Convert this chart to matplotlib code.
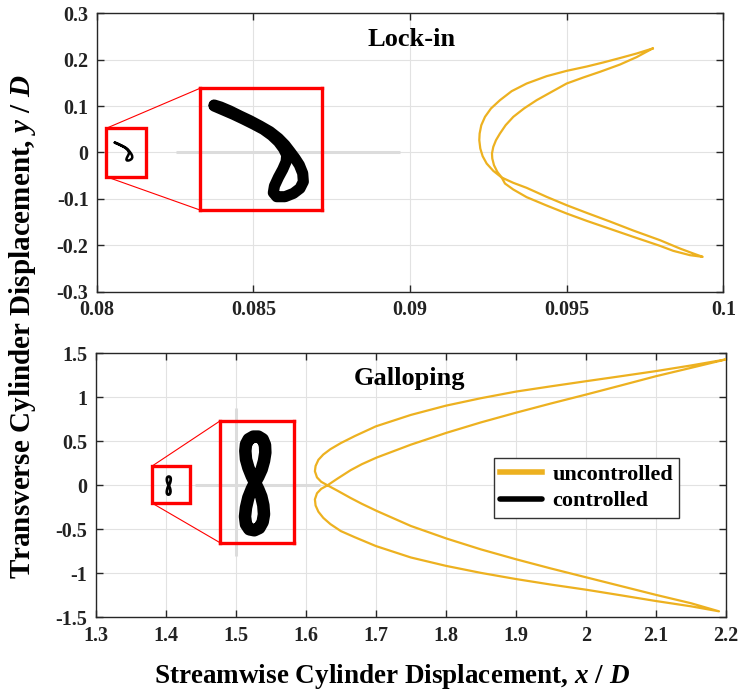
import matplotlib
matplotlib.use('Agg')
import matplotlib.pyplot as plt
from matplotlib.patches import Rectangle, ConnectionPatch

plt.rcParams['font.family'] = ['Liberation Serif', 'DejaVu Serif']
plt.rcParams['font.weight'] = 'bold'
plt.rcParams['mathtext.fontset'] = 'custom'
plt.rcParams['mathtext.it'] = 'Liberation Serif:italic:bold'
plt.rcParams['mathtext.rm'] = 'Liberation Serif:bold'

# ---------------- data ----------------
# Lock-in, uncontrolled trajectory (x/D, y/D)
lock_unc_x = [0.097745, 0.097234, 0.096702, 0.096170, 0.095638, 0.094999, 0.094360,
              0.093722, 0.093243, 0.092870, 0.092583, 0.092392, 0.092274, 0.092221,
              0.092210, 0.092242, 0.092317, 0.092445, 0.092657, 0.092924,
              0.093296, 0.093722, 0.094360, 0.094999, 0.095638, 0.096383, 0.097127,
              0.097979, 0.098618, 0.099043, 0.099341,
              0.098937, 0.098404, 0.097979, 0.097127, 0.096383, 0.095638, 0.094999,
              0.094360, 0.093722, 0.093296, 0.093030, 0.092924,
              0.092785, 0.092679, 0.092625, 0.092615, 0.092657, 0.092743, 0.092870,
              0.093051, 0.093296, 0.093637, 0.094041, 0.094520, 0.094999, 0.095531,
              0.096063, 0.096702, 0.097234, 0.097745]
lock_unc_y = [0.2241, 0.2133, 0.2035, 0.1940, 0.1852, 0.1759, 0.1644,
              0.1486, 0.1321, 0.1127, 0.0948, 0.0768, 0.0588, 0.0409,
              0.0265, 0.0086, -0.0080, -0.0238, -0.0396, -0.0539,
              -0.0654, -0.0762, -0.0956, -0.1136, -0.1301, -0.1488, -0.1682,
              -0.1890, -0.2070, -0.2177, -0.2249,
              -0.2213, -0.2120, -0.2012, -0.1818, -0.1646, -0.1473, -0.1315,
              -0.1143, -0.0963, -0.0798, -0.0669, -0.0539,
              -0.0417, -0.0274, -0.0130, -0.0022, 0.0121, 0.0265, 0.0409,
              0.0588, 0.0768, 0.0948, 0.1127, 0.1307, 0.1486, 0.1616,
              0.1738, 0.1895, 0.2055, 0.2241]

# Lock-in, controlled trajectory
lock_ctl_x = [0.080572, 0.080630, 0.080693, 0.080755, 0.080818, 0.080881, 0.080933,
              0.080975, 0.081006, 0.081027, 0.081023, 0.081002, 0.080975, 0.080950,
              0.080943, 0.080964, 0.081016, 0.081069, 0.081110, 0.081131, 0.081127,
              0.081106, 0.081079, 0.081048, 0.081016, 0.080975, 0.080922, 0.080860,
              0.080797, 0.080735, 0.080672, 0.080613, 0.080572]
lock_ctl_y = [0.02102, 0.01934, 0.01751, 0.01553, 0.01342, 0.01117, 0.00864,
              0.00596, 0.00315, 0.00033, -0.00249, -0.00573, -0.00910, -0.01276,
              -0.01558, -0.01727, -0.01727, -0.01586, -0.01375, -0.01093, -0.00741,
              -0.00389, -0.00108, 0.00174, 0.00455, 0.00737, 0.01018, 0.01258,
              0.01483, 0.01680, 0.01891, 0.02060, 0.02145]

# Galloping, uncontrolled trajectory
gall_unc_x = [2.200, 2.150, 2.100, 2.050, 2.000, 1.950, 1.900, 1.850, 1.800, 1.750,
              1.700, 1.670, 1.650, 1.635, 1.625, 1.618, 1.614, 1.613, 1.616, 1.622,
              1.631,
              1.645, 1.664, 1.680, 1.701, 1.750, 1.801, 1.850, 1.900, 1.950, 2.000,
              2.050, 2.100, 2.150, 2.190,
              2.150, 2.100, 2.050, 2.000, 1.950, 1.900, 1.850, 1.800, 1.750, 1.700,
              1.670, 1.650, 1.635, 1.625, 1.618, 1.614, 1.613, 1.616, 1.622, 1.631,
              1.645, 1.664, 1.680, 1.701, 1.750, 1.801, 1.850, 1.900, 1.950, 2.000,
              2.050, 2.100, 2.150, 2.200]
gall_unc_y = [1.431, 1.362, 1.298, 1.240, 1.183, 1.125, 1.065, 0.990, 0.905, 0.800,
              0.670, 0.560, 0.480, 0.410, 0.350, 0.290, 0.220, 0.160, 0.090, 0.040,
              0.000,
              -0.060, -0.144, -0.210, -0.290, -0.462, -0.605, -0.728, -0.840, -0.945, -1.045,
              -1.145, -1.245, -1.340, -1.432,
              -1.375, -1.315, -1.250, -1.186, -1.128, -1.065, -0.995, -0.915, -0.820, -0.690,
              -0.590, -0.520, -0.440, -0.370, -0.300, -0.230, -0.160, -0.090, -0.040, 0.000,
              0.075, 0.172, 0.240, 0.315, 0.462, 0.597, 0.715, 0.825, 0.930, 1.031,
              1.135, 1.240, 1.335, 1.431]

# Galloping, controlled trajectory
gall_ctl_x = [1.404301, 1.405214, 1.406130, 1.406769, 1.407134, 1.407044, 1.406404,
              1.405214, 1.403843, 1.402564, 1.401832, 1.401648, 1.401832, 1.402471,
              1.403387, 1.404301, 1.405214, 1.406037, 1.406586, 1.406769, 1.406404,
              1.405488, 1.404117, 1.402745, 1.401832, 1.401558, 1.401832, 1.402471,
              1.403387, 1.404301]
gall_ctl_y = [-0.0017, 0.0114, 0.0274, 0.0456, 0.0639, 0.0806, 0.0930,
              0.0988, 0.0988, 0.0930, 0.0821, 0.0675, 0.0493, 0.0311,
              0.0129, -0.0017, -0.0163, -0.0323, -0.0513, -0.0709, -0.0877,
              -0.1008, -0.1059, -0.1037, -0.0928, -0.0760, -0.0563, -0.0345,
              -0.0163, -0.0017]

# reference cross-hair lines (light grey)
lock_ref_x = [0.08252, 0.08968]
gall_ref_hx = [1.442, 1.620]
gall_ref_vy = [-0.807, 0.880]

# zoom windows: (x0, y0, width, height)
lock_zoom = (0.0803, -0.0522, 0.00128, 0.1043)
gall_zoom = (1.380, -0.200, 0.054, 0.416)
lock_inset_xlim = (0.080484, 0.081250)
lock_inset_ylim = (-0.0229, 0.0285)
gall_inset_xlim = (1.3947, 1.4150)
gall_inset_ylim = (-0.133, 0.133)

UNC = '#EDB120'
GRID = '#e2e2e2'
REFG = '#dcdcdc'

fig = plt.figure(figsize=(7.4, 6.98), dpi=100)
ax1 = fig.add_axes([0.1309, 0.5821, 0.8465, 0.3989])
ax2 = fig.add_axes([0.1293, 0.1156, 0.8518, 0.3782])


def style_axes(ax):
    ax.grid(True, color=GRID, lw=0.8, zorder=0)
    ax.set_axisbelow(True)
    ax.tick_params(direction='in', top=True, right=True, length=5, width=1,
                   labelsize=14.5, pad=6, colors='#262626')
    for lab in ax.get_xticklabels() + ax.get_yticklabels():
        lab.set_fontweight('bold')
        lab.set_color('#222222')
    for s in ax.spines.values():
        s.set_color('#262626')
        s.set_linewidth(1.0)


# ---------- top panel ----------
ax1.plot(lock_ref_x, [0, 0], color=REFG, lw=2.2, zorder=1, solid_capstyle='butt')
ax1.plot(lock_unc_x, lock_unc_y, color=UNC, lw=1.6, zorder=3,
         solid_joinstyle='round')
ax1.plot(lock_ctl_x, lock_ctl_y, color='black', lw=1.8, zorder=3,
         solid_capstyle='round', solid_joinstyle='round')
ax1.set_xlim(0.08, 0.1)
ax1.set_ylim(-0.3, 0.3)
ax1.set_xticks([0.08, 0.085, 0.09, 0.095, 0.1])
ax1.set_xticklabels(['0.08', '0.085', '0.09', '0.095', '0.1'])
ax1.set_yticks([-0.3, -0.2, -0.1, 0, 0.1, 0.2, 0.3])
ax1.set_yticklabels(['-0.3', '-0.2', '-0.1', '0', '0.1', '0.2', '0.3'])
style_axes(ax1)
ax1.text(0.5026, 0.8825, 'Lock-in', transform=ax1.transAxes, ha='center',
         va='baseline', fontsize=19, fontweight='bold')
ax1.add_patch(Rectangle(lock_zoom[:2], lock_zoom[2], lock_zoom[3], fill=False,
                        ec='red', lw=2.4, zorder=4))

ins1 = fig.add_axes([0.2703, 0.6991, 0.1653, 0.1744])
ins1.set_facecolor('none')
ins1.plot(lock_ctl_x, lock_ctl_y, color='black', lw=8,
          solid_capstyle='round', solid_joinstyle='round')
ins1.set_xlim(*lock_inset_xlim)
ins1.set_ylim(*lock_inset_ylim)
ins1.set_xticks([]); ins1.set_yticks([])
for s in ins1.spines.values():
    s.set_color('red'); s.set_linewidth(2.4)

for ya, yb in [(1, lock_zoom[1] + lock_zoom[3]), (0, lock_zoom[1])]:
    cp = ConnectionPatch(xyA=(0, ya), coordsA=ins1.transAxes,
                         xyB=(lock_zoom[0], yb), coordsB=ax1.transData,
                         color='red', lw=0.8)
    fig.add_artist(cp)

# ---------- bottom panel ----------
ax2.plot(gall_ref_hx, [0, 0], color=REFG, lw=2.2, zorder=1, solid_capstyle='butt')
ax2.plot([1.5, 1.5], gall_ref_vy, color=REFG, lw=2.2, zorder=1, solid_capstyle='butt')
l_unc, = ax2.plot(gall_unc_x, gall_unc_y, color=UNC, lw=1.6, zorder=3,
                  solid_joinstyle='round', label='uncontrolled')
l_ctl, = ax2.plot(gall_ctl_x, gall_ctl_y, color='black', lw=2.0, zorder=3,
                  solid_capstyle='round', solid_joinstyle='round', label='controlled')
ax2.set_xlim(1.3, 2.2)
ax2.set_ylim(-1.5, 1.5)
ax2.set_xticks([1.3, 1.4, 1.5, 1.6, 1.7, 1.8, 1.9, 2.0, 2.1, 2.2])
ax2.set_xticklabels(['1.3', '1.4', '1.5', '1.6', '1.7', '1.8', '1.9', '2', '2.1', '2.2'])
ax2.set_yticks([-1.5, -1, -0.5, 0, 0.5, 1, 1.5])
ax2.set_yticklabels(['-1.5', '-1', '-0.5', '0', '0.5', '1', '1.5'])
style_axes(ax2)
ax2.text(0.4985, 0.88, 'Galloping', transform=ax2.transAxes, ha='center',
         va='baseline', fontsize=19, fontweight='bold')
ax2.add_patch(Rectangle(gall_zoom[:2], gall_zoom[2], gall_zoom[3], fill=False,
                        ec='red', lw=2.4, zorder=4))

leg = ax2.legend(handles=[l_unc, l_ctl], loc='upper left', bbox_to_anchor=(0.632, 0.602),
                 borderaxespad=0, frameon=True, fancybox=False, framealpha=1,
                 edgecolor='#333333',
                 prop={'family': 'Liberation Serif', 'weight': 'bold', 'size': 16},
                 handlelength=1.9, handletextpad=0.45, labelspacing=0.25, borderpad=0.28)
leg.get_frame().set_linewidth(1.0)
for h in leg.get_lines():
    h.set_linewidth(4)

ins2 = fig.add_axes([0.2973, 0.2225, 0.1, 0.1744])
ins2.set_facecolor('none')
ins2.plot(gall_ctl_x, gall_ctl_y, color='black', lw=9,
          solid_capstyle='round', solid_joinstyle='round')
ins2.set_xlim(*gall_inset_xlim)
ins2.set_ylim(*gall_inset_ylim)
ins2.set_xticks([]); ins2.set_yticks([])
for s in ins2.spines.values():
    s.set_color('red'); s.set_linewidth(2.4)

for ya, yb in [(1, gall_zoom[1] + gall_zoom[3]), (0, gall_zoom[1])]:
    cp = ConnectionPatch(xyA=(0, ya), coordsA=ins2.transAxes,
                         xyB=(gall_zoom[0], yb), coordsB=ax2.transData,
                         color='red', lw=0.8)
    fig.add_artist(cp)

# ---------- axis labels ----------
fig.text(0.530, 0.0305, 'Streamwise Cylinder Displacement, $x$ / $D$', ha='center',
         va='center', fontsize=19.5, fontweight='bold')
fig.text(0.031, 0.5315, 'Transverse Cylinder Displacement, $y$ / $D$', ha='center',
         va='center', rotation=90, fontsize=21, fontweight='bold')

fig.savefig('out.png', dpi=100)
